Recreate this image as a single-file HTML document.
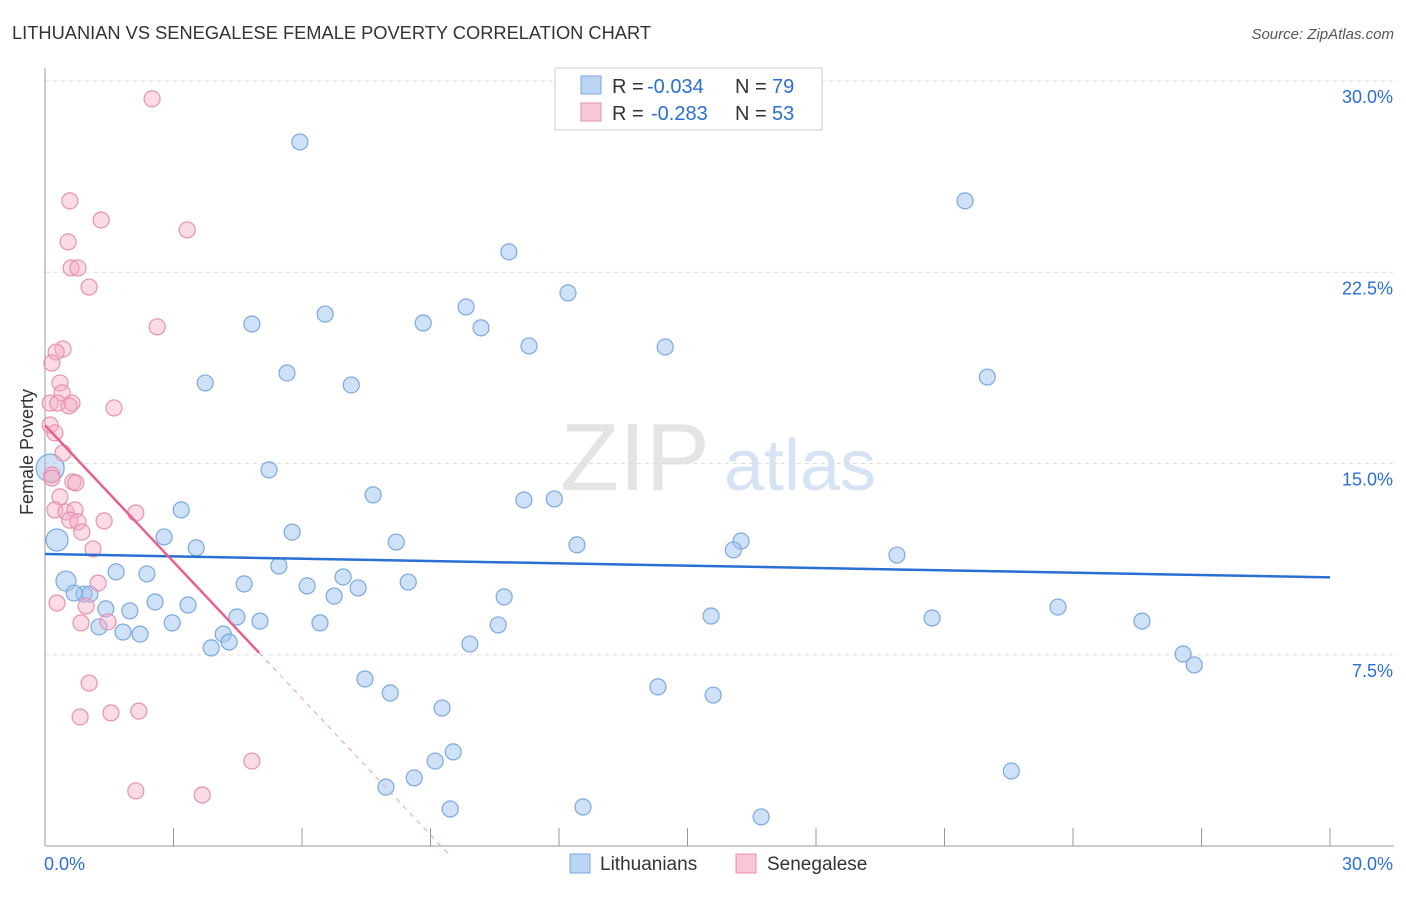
<!DOCTYPE html>
<html><head><meta charset="utf-8">
<style>
body{margin:0;background:#fff;font-family:"Liberation Sans",sans-serif;}
svg text{font-family:"Liberation Sans",sans-serif;}
</style></head>
<body>
<svg id="chart" width="1406" height="892" viewBox="0 0 1406 892" xmlns="http://www.w3.org/2000/svg">
<text x="12" y="39" font-size="18" fill="#333" textLength="639" lengthAdjust="spacingAndGlyphs">LITHUANIAN VS SENEGALESE FEMALE POVERTY CORRELATION CHART</text>
<text x="1394" y="39" font-size="15" fill="#555" font-style="italic" text-anchor="end">Source: ZipAtlas.com</text>
<text x="635" y="490" font-size="96" fill="#e4e4e4" font-family="Liberation Serif,serif" text-anchor="middle">ZIP</text>
<text x="800" y="490" font-size="72" fill="#d5e3f4" text-anchor="middle">atlas</text>
<g id="grid"></g>
<g id="axes"></g>
<g id="marks"></g>
<text x="36" y="455" font-size="18" fill="#333" text-anchor="middle" transform="rotate(-90 33 455)">Female Poverty</text>
<g>
<rect x="555" y="68" width="267" height="62" fill="#fff" stroke="#ccc"/>
<rect x="581" y="76" width="20" height="18" fill="#bcd4f4" stroke="#7aa8e0"/>
<rect x="581" y="103" width="20" height="18" fill="#f9c6d5" stroke="#e890b0"/>
<text x="612" y="93" font-size="20" fill="#333">R =</text>
<text x="647" y="93" font-size="20" fill="#2a6fd4">-0.034</text>
<text x="735" y="93" font-size="20" fill="#333">N =</text>
<text x="772" y="93" font-size="20" fill="#2a6fd4">79</text>
<text x="612" y="120" font-size="20" fill="#333">R =</text>
<text x="651" y="120" font-size="20" fill="#2a6fd4">-0.283</text>
<text x="735" y="120" font-size="20" fill="#333">N =</text>
<text x="772" y="120" font-size="20" fill="#2a6fd4">53</text>
</g>
<g>
<rect x="570" y="854" width="20" height="19" fill="#bcd4f4" stroke="#7aa8e0"/>
<text x="600" y="870" font-size="19" fill="#333">Lithuanians</text>
<rect x="736" y="854" width="20" height="19" fill="#f9c6d5" stroke="#e890b0"/>
<text x="767" y="870" font-size="19" fill="#333">Senegalese</text>
</g>
</svg>
<script>
const yTicks=[7.5,15,22.5,30];
const yTickLabels=["7.5%","15.0%","22.5%","30.0%"];
const xTickValues=[0,3,6,9,12,15,18,21,24,27,30];
const xEndLabels=["0.0%","30.0%"];
const blueX=[5.95,21.48,10.83,12.21,9.83,6.54,4.83,8.83,10.18,11.30,14.48,5.65,22.0,3.74,7.15,5.23,7.66,11.18,11.89,3.18,5.77,2.78,8.20,12.42,16.25,16.07,19.89,3.53,5.46,1.66,2.38,6.96,4.65,6.12,7.31,8.48,6.75,10.72,2.57,3.34,1.42,1.98,23.65,4.48,15.55,20.71,5.02,25.61,2.97,6.42,10.58,1.26,1.82,2.22,4.16,4.30,3.88,9.92,26.57,26.83,7.47,14.31,8.06,15.60,9.27,9.53,9.11,22.56,8.62,7.96,12.56,9.46,16.72,0.49,0.91,0.68,1.05,0.28,0.12];
const blueY=[27.61,25.30,23.30,21.69,21.14,20.86,20.47,20.51,20.32,19.61,19.57,18.55,18.39,18.16,18.08,14.75,13.77,13.57,13.61,13.18,12.31,12.12,11.92,11.81,11.96,11.61,11.41,11.69,10.98,10.75,10.67,10.55,10.28,10.20,10.12,10.35,9.80,9.77,9.57,9.45,9.30,9.22,9.37,8.98,9.02,8.94,8.82,8.82,8.75,8.75,8.67,8.59,8.39,8.31,8.31,8.00,7.77,7.92,7.53,7.10,6.55,6.24,6.00,5.92,5.41,3.69,3.33,2.94,2.67,2.31,1.53,1.45,1.14,10.39,9.88,9.92,9.88,12.0,14.82];
const blueSize=[8,8,8,8,8,8,8,8,8,8,8,8,8,8,8,8,8,8,8,8,8,8,8,8,8,8,8,8,8,8,8,8,8,8,8,8,8,8,8,8,8,8,8,8,8,8,8,8,8,8,8,8,8,8,8,8,8,8,8,8,8,8,8,8,8,8,8,8,8,8,8,8,8,10,8,8,8,11,14];
const pinkX=[2.50,0.58,1.31,3.32,0.54,0.61,0.77,1.03,2.62,0.42,0.26,0.16,0.35,0.40,0.12,0.30,0.63,0.56,1.61,0.12,0.23,0.42,0.16,0.16,0.65,0.72,0.35,0.23,0.49,0.70,2.12,0.58,1.38,0.77,0.86,1.12,1.24,0.28,0.96,0.84,1.47,1.03,0.82,1.54,2.19,4.83,2.12,3.67];
const pinkY=[29.30,25.30,24.55,24.16,23.69,22.67,22.67,21.92,20.36,19.49,19.37,18.94,18.16,17.77,17.37,17.37,17.37,17.26,17.18,16.51,16.20,15.41,14.55,14.43,14.28,14.24,13.69,13.18,13.10,13.18,13.06,12.78,12.75,12.71,12.31,11.65,10.31,9.53,9.41,8.75,8.79,6.39,5.06,5.22,5.29,3.33,2.16,2.00];
const blueTrend=[11.45,-0.0305];   // intercept, slope
const pinkTrend=[16.5,-1.785];
const pinkSolidEnd=5.0, pinkDashEnd=9.4;

const X0=45,X1=1330,Y0=846,Y1=81;
const xs=v=>X0+v/30*(X1-X0);
const ys=v=>Y0-v/30*(Y0-Y1);
const NS="http://www.w3.org/2000/svg";
function mk(tag,attrs,parent){const e=document.createElementNS(NS,tag);for(const k in attrs)e.setAttribute(k,attrs[k]);parent.appendChild(e);return e;}
const grid=document.getElementById('grid'),axes=document.getElementById('axes'),marks=document.getElementById('marks');
yTicks.forEach((t,i)=>{
 const l=mk('line',{x1:X0,x2:1394,y1:ys(t),y2:ys(t),stroke:'#ddd','stroke-dasharray':'4,4'},grid);
 
 
 const tx=mk('text',{x:1393,y:ys(t)+22,'font-size':18,fill:'#2a6fd4','text-anchor':'end'},axes);
 tx.textContent=yTickLabels[i];
 
 
});
const ya=mk('line',{x1:X0,x2:X0,y1:68,y2:Y0,stroke:'#999'},axes);


const xa=mk('line',{x1:X0,x2:1394,y1:Y0,y2:Y0,stroke:'#999'},axes);


xTickValues.forEach(t=>{
 const l=mk('line',{x1:xs(t),x2:xs(t),y1:Y0-18,y2:Y0,stroke:'#999'},axes);
 
 
});
[[0,'start',44],[30,'end',1393]].forEach((d,i)=>{
 const tx=mk('text',{x:d[2],y:870,'font-size':18,fill:'#2a6fd4','text-anchor':d[1]},axes);
 tx.textContent=xEndLabels[i];
 
 
});
blueX.forEach((x,i)=>{
 const c=mk('circle',{cx:xs(x),cy:ys(blueY[i]),r:blueSize[i],fill:'rgba(160,195,240,0.5)',stroke:'#7aa8e0','stroke-width':1.2},marks);
 
 
});
pinkX.forEach((x,i)=>{
 const c=mk('circle',{cx:xs(x),cy:ys(pinkY[i]),r:8,fill:'rgba(245,175,200,0.45)',stroke:'#e890b0','stroke-width':1.2},marks);
 
 
});
const bt=mk('line',{x1:xs(0),y1:ys(blueTrend[0]),x2:xs(30),y2:ys(blueTrend[0]+blueTrend[1]*30),stroke:'#2a6fd4','stroke-width':2.5},marks);


const pt=mk('line',{x1:xs(0),y1:ys(pinkTrend[0]),x2:xs(pinkSolidEnd),y2:ys(pinkTrend[0]+pinkTrend[1]*pinkSolidEnd),stroke:'#e8608c','stroke-width':2.5},marks);


const pd=mk('line',{x1:xs(pinkSolidEnd),y1:ys(pinkTrend[0]+pinkTrend[1]*pinkSolidEnd),x2:xs(pinkDashEnd),y2:ys(pinkTrend[0]+pinkTrend[1]*pinkDashEnd),stroke:'#e8a0b8','stroke-width':1,'stroke-dasharray':'5,5'},marks);


</script>
</body></html>
